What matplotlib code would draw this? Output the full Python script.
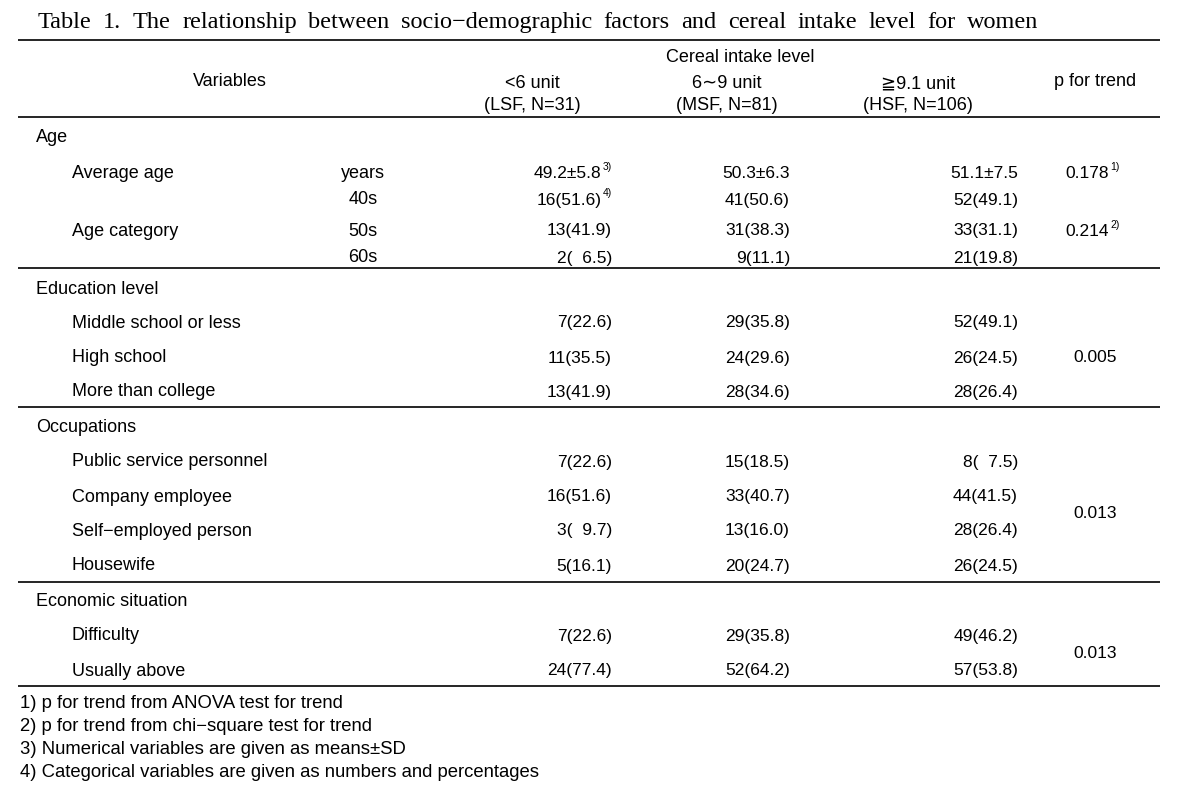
import matplotlib
matplotlib.use("Agg")
import matplotlib.pyplot as plt

# ---------------- data ----------------
title = "Table 1. The relationship between socio\u2212demographic factors and cereal intake level for women"
header_group = "Cereal intake level"
header_vars = "Variables"
col_heads = ["<6 unit", "6\u223c9 unit", "\u22679.1 unit"]
col_subs = ["(LSF, N=31)", "(MSF, N=81)", "(HSF, N=106)"]
header_p = "p for trend"

groups = ["Age", "Education level", "Occupations", "Economic situation"]
age_labels = ["Average age", "", "Age category", ""]
age_units = ["years", "40s", "50s", "60s"]
education = ["Middle school or less", "High school", "More than college"]
occupations = ["Public service personnel", "Company employee", "Self\u2212employed person", "Housewife"]
economic = ["Difficulty", "Usually above"]

lsf = ["49.2\u00b15.8", "16(51.6)", "13(41.9)", "2(  6.5)",
       "7(22.6)", "11(35.5)", "13(41.9)",
       "7(22.6)", "16(51.6)", "3(  9.7)", "5(16.1)",
       "7(22.6)", "24(77.4)"]
msf = ["50.3\u00b16.3", "41(50.6)", "31(38.3)", "9(11.1)",
       "29(35.8)", "24(29.6)", "28(34.6)",
       "15(18.5)", "33(40.7)", "13(16.0)", "20(24.7)",
       "29(35.8)", "52(64.2)"]
hsf = ["51.1\u00b17.5", "52(49.1)", "33(31.1)", "21(19.8)",
       "52(49.1)", "26(24.5)", "28(26.4)",
       "8(  7.5)", "44(41.5)", "28(26.4)", "26(24.5)",
       "49(46.2)", "57(53.8)"]
lsf_sup = {0: "3)", 1: "4)"}
p_values = ["0.178", "0.214", "0.005", "0.013", "0.013"]
p_sups = ["1)", "2)", "", "", ""]

footnotes = ["1) p for trend from ANOVA test for trend",
             "2) p for trend from chi\u2212square test for trend",
             "3) Numerical variables are given as means\u00b1SD",
             "4) Categorical variables are given as numbers and percentages"]

# ---------------- layout ----------------
W, H = 1183, 791
fig = plt.figure(figsize=(W / 100, H / 100), dpi=100)
ax = fig.add_axes([0, 0, 1, 1])
ax.set_xlim(0, W)
ax.set_ylim(H, 0)
ax.axis("off")

FAM = ["Liberation Sans", "DejaVu Sans"]
SERIF = ["Liberation Serif", "DejaVu Serif"]
FS = 13          # labels / headers
NFS = 12.5       # numbers
SUPFS = 7.5
BASE = 6.5       # baseline offset below row centre (px)
renderer = fig.canvas.get_renderer()


def txt(x, y, s, ha="left", fs=FS, family=None, **kw):
    return ax.text(x, y + BASE, s, ha=ha, va="baseline", fontsize=fs,
                   family=family or FAM, color="black", **kw)


def sup(x, y, s, ha="left"):
    return ax.text(x, y - 1.5, s, ha=ha, va="baseline", fontsize=SUPFS,
                   family=FAM, color="black")


def width_px(t):
    return t.get_window_extent(renderer=renderer).width


# title: words justified between x=38 and x=1038
words = title.split(" ")
tmp = [ax.text(0, 28, w, ha="left", va="baseline", fontsize=17.5,
               family=SERIF, color="black") for w in words]
widths = [width_px(t) for t in tmp]
gap = (1038 - 38 - sum(widths)) / (len(words) - 1)
xpos = 38
for t, wd in zip(tmp, widths):
    t.set_x(xpos)
    xpos += wd + gap

# rules
XL, XR = 18, 1160
for yl in [40, 117, 268, 407, 582, 686]:
    ax.plot([XL, XR], [yl, yl], color="black", lw=1.2, solid_capstyle="butt")

# header
txt(740, 55, header_group, ha="center")
txt(230, 80, header_vars, ha="center")
col_centers = [532, 727, 918]
for cx, h1, h2 in zip(col_centers, col_heads, col_subs):
    txt(cx, 82, h1, ha="center")
    txt(cx, 103, h2, ha="center")
txt(1095, 80, header_p, ha="center")

# row positions
group_y = [136, 287, 426, 600]
data_y = [171, 198, 229, 256,
          321, 356, 390,
          460, 495, 529, 564,
          634, 669]
p_y = [171, 229, 356, 512, 651]

for gy, g in zip(group_y, groups):
    txt(36, gy, g)

sub_labels = age_labels + education + occupations + economic
for y, lab in zip(data_y, sub_labels):
    if lab:
        txt(72, y, lab)
for y, u in zip(data_y[:4], age_units):
    txt(363, y, u, ha="center")

col_right = [612, 790, 1018]
for ci, vals in enumerate([lsf, msf, hsf]):
    xr = col_right[ci]
    for i, (y, v) in enumerate(zip(data_y, vals)):
        if ci == 0 and i in lsf_sup:
            s = sup(xr, y, lsf_sup[i], ha="right")
            sw = width_px(s)
            txt(xr - sw - 1, y, v, ha="right", fs=NFS)
        else:
            txt(xr, y, v, ha="right", fs=NFS)

for y, pv, ps in zip(p_y, p_values, p_sups):
    if ps:
        txt(1109, y, pv, ha="right", fs=NFS)
        sup(1110, y, ps)
    else:
        txt(1095, y, pv, ha="center", fs=NFS)

for i, fn in enumerate(footnotes):
    txt(20, 702 + i * 22.7, fn, fs=13.3)

fig.savefig("out.png", dpi=100)
